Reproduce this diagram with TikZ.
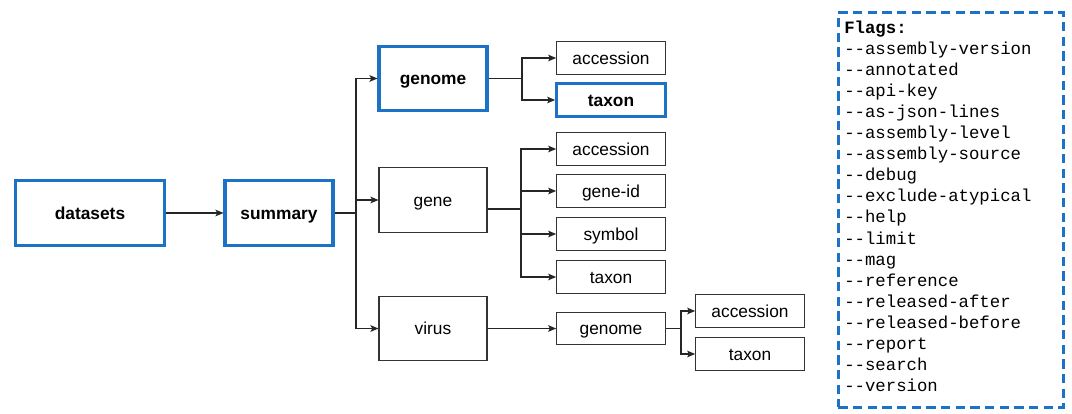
\documentclass[tikz,border=0pt]{standalone}
\usepackage{fontspec}
\setmainfont{Liberation Sans}
\setmonofont{Liberation Mono}
\usetikzlibrary{arrows.meta}
\definecolor{cliblue}{RGB}{28,114,196}
\tikzset{
	box/.style={draw=black!80, line width=0.8pt, minimum width=81pt, minimum height=48.5pt, inner sep=0pt, text height=12.3pt, text depth=2.7pt, font=\fontsize{13}{15}\selectfont},
	leaf/.style={box, minimum width=81.5pt, minimum height=24.5pt},
	hl/.style={draw=cliblue, line width=2.3pt, font=\fontsize{13}{15}\selectfont\bfseries},
	link/.style={draw=black!85, line width=0.8pt},
	arr/.style={link, -{Stealth[length=6pt,width=5pt,inset=1.3pt]}},
	flag/.style={inner sep=0pt, anchor=base west, font=\fontsize{13}{15}\selectfont\ttfamily}
}

\begin{document}
\begin{tikzpicture}[x=0.75pt, y=-0.75pt]
		\useasboundingbox (0,0) rectangle (1072,414);
		%%%%% COMMANDS %%%%%
		\node[box, hl, minimum width=112pt] (datasets) at (90,213) {datasets};
		\node[box, hl] (summary) at (279,213) {summary};
		\node[box, hl] (genome) at (433,78.5) {genome};
		\node[box] (gene) at (433,200) {gene};
		\node[box] (virus) at (433,328.5) {virus};
		
		\node[leaf] (genomeacc) at (611,58) {accession};
		\node[leaf, hl] (genometax) at (611,100) {taxon};
		
		\node[leaf] (geneacc) at (611,149) {accession};
		\node[leaf] (geneid) at (611,191) {gene-id};
		\node[leaf] (genesym) at (611,234) {symbol};
		\node[leaf] (genetax) at (611,277) {taxon};
		
		\node[leaf] (virusgenome) at (611,328.5) {genome};
		\node[leaf] (virusacc) at (750,311) {accession};
		\node[leaf] (virustax) at (750,354) {taxon};
		
		%%%%% CONNECTORS %%%%%
		\draw[arr] (datasets) -- (summary);
		
		\coordinate (s) at (356,213);
		\draw[link] (summary) -- (s);
		\draw[arr] (s) |- (genome);
		\draw[arr] (s) |- (gene);
		\draw[arr] (s) |- (virus);
		
		\coordinate (g) at (522,78.5);
		\draw[link] (genome) -- (g);
		\draw[arr] (g) |- (genomeacc);
		\draw[arr] (g) |- (genometax);
		
		\coordinate (n) at (521,209);
		\draw[link] (gene.east |- n) -- (n);
		\draw[arr] (n) |- (geneacc);
		\draw[arr] (n) |- (geneid);
		\draw[arr] (n) |- (genesym);
		\draw[arr] (n) |- (genetax);
		
		\draw[arr] (virus) -- (virusgenome);
		\coordinate (v) at (681,328.5);
		\draw[link] (virusgenome) -- (v);
		\draw[arr] (v) |- (virusacc);
		\draw[arr] (v) |- (virustax);
		
		%%%%% FLAGS %%%%%
		\node[draw=cliblue, line width=2.3pt, dash pattern=on 7pt off 4pt, minimum width=169pt, minimum height=296pt, inner sep=0pt] (flagbox) at (951,210) {};
		\foreach \f [count=\i from 0] in {\textbf{Flags:}, -{}-assembly-version, -{}-annotated, -{}-api-key, -{}-as-json-lines, -{}-assembly-level, -{}-assembly-source, -{}-debug, -{}-exclude-atypical, -{}-help, -{}-limit, -{}-mag, -{}-reference, -{}-released-after, -{}-released-before, -{}-report, -{}-search, -{}-version}
			\node[flag] (flag\i) at (844,33+21.1*\i) {\f};
\end{tikzpicture}
\end{document}
